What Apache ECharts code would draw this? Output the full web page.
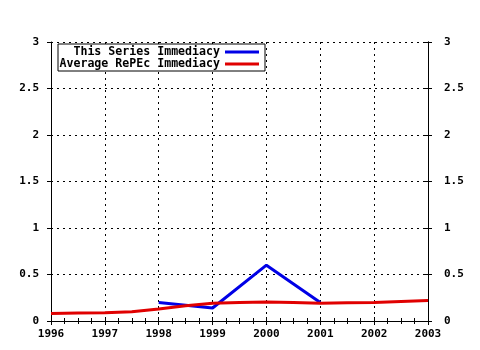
<!DOCTYPE html>
<html><head><meta charset="utf-8">
<script src="https://cdn.jsdelivr.net/npm/echarts@6/dist/echarts.min.js"></script>
<style>html,body{margin:0;padding:0;background:#fff}#c{width:480px;height:350px}</style>
</head><body><div id="c"></div>
<script>
const yearTicks = [1996, 1997, 1998, 1999, 2000, 2001, 2002, 2003];
const seriesNames = ['This Series Immediacy', 'Average RePEc Immediacy'];
const seriesX = [1998, 1999, 2000, 2001];
const seriesY = [0.20, 0.14, 0.60, 0.20];
const avgX = [1996, 1996.5, 1997, 1997.5, 1998, 1998.5, 1999, 1999.5, 2000, 2000.5, 2001, 2001.5, 2002, 2002.5, 2003];
const avgY = [0.08, 0.085, 0.09, 0.10, 0.13, 0.165, 0.19, 0.20, 0.205, 0.20, 0.19, 0.195, 0.20, 0.21, 0.22];

const F = 'DejaVu Sans Mono';
const lbl = {fontFamily: F, fontWeight: 'bold', fontSize: 11, color: '#000'};
const chart = echarts.init(document.getElementById('c'));
const xBase = {type: 'value', min: yearTicks[0], max: yearTicks[yearTicks.length-1], interval: 1,
  axisLine: {lineStyle: {color: '#000', width: 1}}};
const yBase = {type: 'value', min: 0, max: 3, interval: 0.5,
  axisLine: {show: true, lineStyle: {color: '#000', width: 1}}};
const dotted = {show: true, lineStyle: {color: '#000', type: [2, 4], width: 1}};
chart.setOption({
  animation: false,
  grid: {left: 51, right: 52, top: 42, bottom: 29},
  xAxis: [
    Object.assign({}, xBase, {position: 'bottom',
      axisLabel: Object.assign({}, lbl, {margin: 8, formatter: v => String(v)}),
      axisTick: {length: 4, lineStyle: {color: '#000'}},
      minorTick: {show: true, splitNumber: 4, length: 3, lineStyle: {color: '#000'}},
      splitLine: dotted}),
    Object.assign({}, xBase, {position: 'top', axisLabel: {show: false},
      axisTick: {length: 4, lineStyle: {color: '#000'}},
      minorTick: {show: true, splitNumber: 4, length: 3, lineStyle: {color: '#000'}},
      splitLine: {show: false}})
  ],
  yAxis: [
    Object.assign({}, yBase, {position: 'left',
      axisLabel: Object.assign({}, lbl, {margin: 12}),
      axisTick: {length: 4, lineStyle: {color: '#000'}},
      splitLine: dotted}),
    Object.assign({}, yBase, {position: 'right',
      axisLabel: Object.assign({}, lbl, {margin: 16}),
      axisTick: {length: 4, lineStyle: {color: '#000'}},
      splitLine: {show: false}}),
    Object.assign({}, yBase, {position: 'right', axisLabel: {show: false},
      axisTick: {length: 3, inside: true, lineStyle: {color: '#000'}},
      splitLine: {show: false}})
  ],
  graphic: [{type: 'rect', z: 3, shape: {x: 58, y: 44, width: 207, height: 27},
    style: {fill: '#fff', stroke: '#000', lineWidth: 1}}],
  legend: [
    {data: [seriesNames[0]], right: 221, top: 46, padding: 0, align: 'right', icon: 'rect', itemWidth: 34, itemHeight: 3,
     textStyle: Object.assign({}, lbl, {fontSize: 11.6}), z: 5},
    {data: [seriesNames[1]], right: 221, top: 58, padding: 0, align: 'right', icon: 'rect', itemWidth: 34, itemHeight: 3,
     textStyle: Object.assign({}, lbl, {fontSize: 11.6}), z: 5}
  ],
  series: [
    {name: seriesNames[0], type: 'line', showSymbol: false, symbol: 'none', color: '#0000e6',
     lineStyle: {width: 3, color: '#0000e6'}, data: seriesX.map((x, i) => [x, seriesY[i]]), z: 3},
    {name: seriesNames[1], type: 'line', showSymbol: false, symbol: 'none', color: '#e00000',
     lineStyle: {width: 3, color: '#e00000'}, data: avgX.map((x, i) => [x, avgY[i]]), z: 4}
  ]
});
</script></body></html>
